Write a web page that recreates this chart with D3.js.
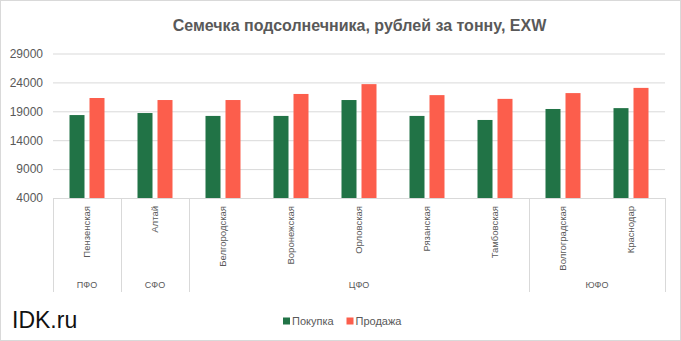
<!DOCTYPE html>
<html>
<head>
<meta charset="utf-8">
<script src="https://cdn.jsdelivr.net/npm/d3@7"></script>
<style>
  html, body { margin: 0; padding: 0; background: #fff; }
  svg { display: block; font-family: "Liberation Sans", Arial, sans-serif; }
</style>
</head>
<body>
<svg id="chart" width="681" height="341"></svg>
<script>
const title = "Семечка подсолнечника, рублей за тонну, EXW";
const categories = ["Пензенская", "Алтай", "Белгородская", "Воронежская", "Орловская", "Рязанская", "Тамбовская", "Волгоградская", "Краснодар"];
const districts = ["ПФО", "СФО", "ЦФО", "ЦФО", "ЦФО", "ЦФО", "ЦФО", "ЮФО", "ЮФО"];
const seriesNames = ["Покупка", "Продажа"];
const buyValues = [18350, 18700, 18200, 18200, 20950, 18200, 17500, 19400, 19550];
const sellValues = [21300, 20950, 20950, 22000, 23700, 21800, 21150, 22150, 23050];
const yTicks = [4000, 9000, 14000, 19000, 24000, 29000];
const colors = ["#217346", "#FC5E4C"];
const watermark = "IDK.ru";

const svg = d3.select("#chart");
const W = 681, H = 341;
const plot = { left: 53, right: 665, top: 53.5, bottom: 198 };

svg.append("rect").attr("x", 0.5).attr("y", 0.5).attr("width", W - 1).attr("height", H - 1)
  .attr("fill", "#fff").attr("stroke", "#d9d9d9");

const y = d3.scaleLinear().domain([4000, 29000]).range([plot.bottom, plot.top]);
const x0 = d3.scaleBand().domain(categories).range([plot.left, plot.right]).paddingInner(0).paddingOuter(0);
const x1 = d3.scaleBand().domain(seriesNames).range([0, x0.bandwidth()]).paddingInner(0.25).paddingOuter(0.825);

// gridlines
const grid = svg.append("g").attr("transform", `translate(${plot.left},0)`)
  .call(d3.axisLeft(y).tickValues(yTicks).tickSize(-(plot.right - plot.left)).tickFormat(""));
grid.select(".domain").remove();
grid.selectAll("line").attr("stroke", "#d9d9d9").attr("stroke-width", 1);

// y axis labels
const yAxis = svg.append("g").attr("transform", `translate(${plot.left},0)`)
  .call(d3.axisLeft(y).tickValues(yTicks).tickSize(0).tickPadding(10).tickFormat(d3.format("d")));
yAxis.select(".domain").remove();
yAxis.selectAll("text").attr("fill", "#595959").attr("font-size", "12px")
  .attr("font-family", "'Liberation Sans', Arial, sans-serif");

// bars
const rows = categories.map((c, i) => ({ cat: c, vals: [buyValues[i], sellValues[i]] }));
const groups = svg.append("g").selectAll("g").data(rows).join("g")
  .attr("transform", d => `translate(${x0(d.cat)},0)`);
groups.selectAll("rect").data(d => d.vals.map((v, j) => ({ s: seriesNames[j], v, j }))).join("rect")
  .attr("x", d => x1(d.s))
  .attr("width", x1.bandwidth())
  .attr("y", d => y(d.v))
  .attr("height", d => y(4000) - y(d.v))
  .attr("fill", d => colors[d.j]);

// x axis line
svg.append("line").attr("x1", plot.left).attr("x2", plot.right)
  .attr("y1", plot.bottom + 0.5).attr("y2", plot.bottom + 0.5).attr("stroke", "#d9d9d9");

// category labels
const xAxis = svg.append("g").attr("transform", `translate(0,${plot.bottom})`)
  .call(d3.axisBottom(x0).tickSize(0).tickPadding(0));
xAxis.select(".domain").remove();
xAxis.selectAll("text")
  .attr("transform", "rotate(-90)")
  .attr("text-anchor", "end")
  .attr("x", -8)
  .attr("y", 0)
  .attr("dy", "0.35em")
  .attr("fill", "#595959")
  .attr("font-size", "9.5px")
  .attr("font-family", "'Liberation Sans', Arial, sans-serif");

// district groups
const groupList = [];
districts.forEach((d, i) => {
  const last = groupList[groupList.length - 1];
  if (last && last.name === d) last.end = i; else groupList.push({ name: d, start: i, end: i });
});
const bounds = [x0(categories[0])];
groupList.forEach(g => bounds.push(x0(categories[g.end]) + x0.bandwidth()));
svg.append("g").selectAll("line").data(bounds).join("line")
  .attr("x1", d => Math.round(d) + 0.5).attr("x2", d => Math.round(d) + 0.5)
  .attr("y1", plot.bottom).attr("y2", 292)
  .attr("stroke", "#d9d9d9");
svg.append("g").selectAll("text").data(groupList).join("text")
  .attr("x", g => (x0(categories[g.start]) + x0(categories[g.end]) + x0.bandwidth()) / 2)
  .attr("y", 285)
  .attr("dy", "0.35em")
  .attr("text-anchor", "middle")
  .attr("fill", "#595959")
  .attr("font-size", "9px")
  .text(g => g.name);

// title
svg.append("text").attr("x", 359.5).attr("y", 31).attr("text-anchor", "middle")
  .attr("font-weight", "bold").attr("font-size", "16px").attr("fill", "#595959")
  .text(title);

// legend
const legend = svg.append("g").attr("transform", "translate(283,321)");
const legendX = [0, 63.5];
seriesNames.forEach((s, j) => {
  const g = legend.append("g").attr("transform", `translate(${legendX[j]},0)`);
  g.append("rect").attr("x", 0).attr("y", -3.5).attr("width", 7).attr("height", 7).attr("fill", colors[j]);
  g.append("text").attr("x", 9).attr("y", 0).attr("dy", "0.35em").attr("font-size", "11px")
    .attr("fill", "#595959").text(s);
});

// watermark
svg.append("text").attr("x", 12).attr("y", 328).attr("font-size", "23px").attr("fill", "#111")
  .text(watermark);
</script>
</body>
</html>
